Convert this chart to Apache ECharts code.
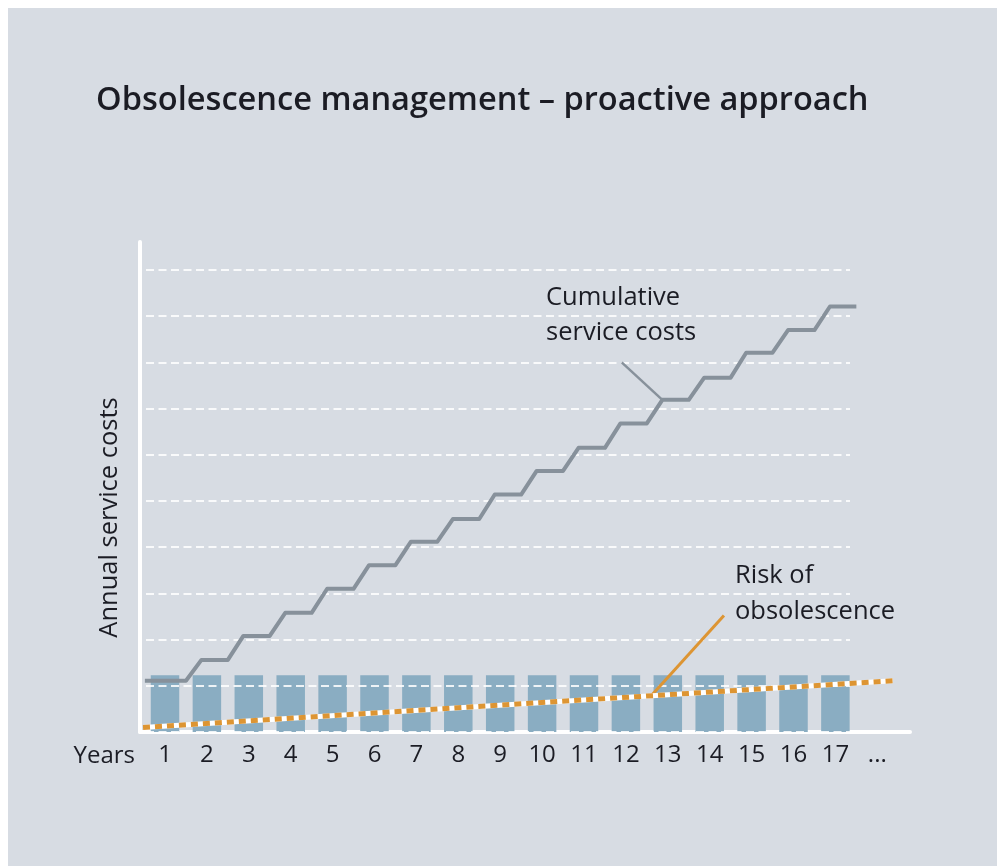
<!DOCTYPE html>
<html><head><meta charset="utf-8">
<script src="https://cdn.jsdelivr.net/npm/echarts@6/dist/echarts.min.js"></script>
<style>html,body{margin:0;padding:0;background:#ffffff}#c{width:997px;height:866px}</style>
</head><body><div id="c"></div>
<script>
// ---- data ----
const years = [1,2,3,4,5,6,7,8,9,10,11,12,13,14,15,16,17];
const xTickLabels = ['1','2','3','4','5','6','7','8','9','10','11','12','13','14','15','16','17','...'];
const annualCosts = [1.23,1.23,1.23,1.23,1.23,1.23,1.23,1.23,1.23,1.23,1.23,1.23,1.23,1.23,1.23,1.23,1.23];
const cumulativeCosts = [1.11,1.56,2.08,2.58,3.10,3.61,4.12,4.61,5.14,5.65,6.15,6.68,7.19,7.67,8.21,8.70,9.21];
const riskX = [0.475, 18.37];
const riskY = [0.10, 1.11];
const gridLevels = [1,2,3,4,5,6,7,8,9,10];

// ---- style constants ----
const FONT = "'Open Sans', 'Noto Sans', sans-serif";
const TXT = '#1b1c24';
const GREY = '#87919b';
const ORANGE = '#dd9533';
const BAR = '#8aadc2';
const BG = '#d7dce3';
const LINE_START = 0.52, STEP_LEAD = 0.13, STEP_TRAIL = 0.5;

// build stepped cumulative line from data
const cumPoints = [];
years.forEach((y, i) => {
  const x0 = i === 0 ? LINE_START : y - STEP_LEAD;
  cumPoints.push([x0, cumulativeCosts[i]]);
  cumPoints.push([y + STEP_TRAIL, cumulativeCosts[i]]);
});
const barData = years.map((y, i) => [y, annualCosts[i]]);
const riskData = riskX.map((x, i) => [x, riskY[i]]);

// callout anchors (data units)
const cumCalloutEnd = [13 - STEP_LEAD, cumulativeCosts[12]];
const cumCalloutStart = [11.9, 8.0];
const riskCalloutEnd = [12.62, 0.80];
const riskCalloutStart = [14.34, 2.52];

const chart = echarts.init(document.getElementById('c'), null, {renderer: 'canvas'});
chart.setOption({
  backgroundColor: BG,
  animation: false,
  title: {
    text: 'Obsolescence management \u2013 proactive approach',
    left: 96, top: 84, padding: 0,
    textStyle: {fontFamily: FONT, fontSize: 32.6, fontWeight: 600, color: TXT}
  },
  graphic: [
    {type: 'rect', shape: {x: 0, y: 0, width: 997, height: 8}, style: {fill: '#ffffff'}, silent: true},
    {type: 'rect', shape: {x: 0, y: 0, width: 8, height: 866}, style: {fill: '#ffffff'}, silent: true},
    {type: 'text', x: 135, y: 756, style: {text: 'Years', fontFamily: FONT, fontSize: 24, fill: TXT, align: 'right', verticalAlign: 'middle'}},
    {type: 'text', x: 110, y: 517.5, rotation: Math.PI / 2, style: {text: 'Annual service costs', fontFamily: FONT, fontSize: 25.5, fill: TXT, align: 'center', verticalAlign: 'middle'}},
    {type: 'text', x: 546, y: 280, style: {text: 'Cumulative\nservice costs', fontFamily: FONT, fontSize: 25.5, lineHeight: 35, fill: TXT, align: 'left', verticalAlign: 'top'}},
    {type: 'text', x: 735, y: 558, style: {text: 'Risk of\nobsolescence', fontFamily: FONT, fontSize: 25.5, lineHeight: 36, fill: TXT, align: 'left', verticalAlign: 'top'}}
  ],
  grid: [
    {left: 123.1, width: 796.1, top: 270, height: 462},   // data grid
    {left: 140, width: 770, top: 242, height: 490},       // axis lines
    {left: 146, width: 704, top: 270, height: 462}        // dashed gridlines
  ],
  xAxis: [
    {gridIndex: 0, type: 'value', min: 0, max: 19, interval: 1,
     axisLine: {show: false}, axisTick: {show: false}, splitLine: {show: false},
     axisLabel: {margin: 11, fontFamily: FONT, fontSize: 24, color: TXT,
       formatter: v => (v >= 1 && v <= xTickLabels.length) ? xTickLabels[v - 1] : ''}},
    {gridIndex: 1, type: 'value', min: 0, max: 1,
     axisLine: {show: true, lineStyle: {color: '#ffffff', width: 4}},
     axisTick: {show: false}, axisLabel: {show: false}, splitLine: {show: false}},
    {gridIndex: 2, type: 'value', min: 0, max: 1, show: false}
  ],
  yAxis: [
    {gridIndex: 0, type: 'value', min: 0, max: 10, interval: 1, show: false},
    {gridIndex: 1, type: 'value', min: 0, max: 1,
     axisLine: {show: true, lineStyle: {color: '#ffffff', width: 4}},
     axisTick: {show: false}, axisLabel: {show: false}, splitLine: {show: false}},
    {gridIndex: 2, type: 'value', min: 0, max: gridLevels.length, interval: 1, z: 3,
     axisLine: {show: false}, axisTick: {show: false}, axisLabel: {show: false},
     splitLine: {show: true, lineStyle: {color: 'rgba(255,255,255,0.85)', width: 2, type: [8, 4.5]}}}
  ],
  series: [
    {type: 'bar', xAxisIndex: 0, yAxisIndex: 0, data: barData, barWidth: 28.5, z: 2,
     itemStyle: {color: BAR}, silent: true},
    {type: 'line', xAxisIndex: 0, yAxisIndex: 0, data: cumPoints, z: 4,
     symbol: 'none', lineStyle: {color: GREY, width: 4, join: 'round'}, silent: true,
     markLine: {silent: true, symbol: ['none', 'none'], label: {show: false},
       lineStyle: {color: GREY, width: 2.5, type: 'solid'},
       data: [[{coord: cumCalloutStart}, {coord: cumCalloutEnd}]]}},
    {type: 'line', xAxisIndex: 0, yAxisIndex: 0, data: riskData, z: 5,
     symbol: 'none', lineStyle: {color: '#ffffff', width: 5}, silent: true},
    {type: 'line', xAxisIndex: 0, yAxisIndex: 0, data: riskData, z: 6,
     symbol: 'none', lineStyle: {color: ORANGE, width: 5, type: [7, 5]}, silent: true,
     markLine: {silent: true, symbol: ['none', 'none'], label: {show: false},
       lineStyle: {color: ORANGE, width: 3, type: 'solid'},
       data: [[{coord: riskCalloutStart}, {coord: riskCalloutEnd}]]}}
  ]
});
</script></body></html>
